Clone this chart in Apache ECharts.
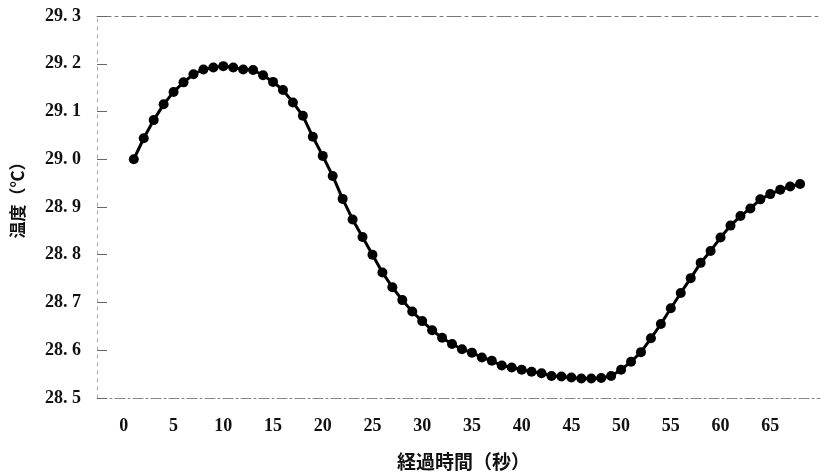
<!DOCTYPE html>
<html>
<head>
<meta charset="utf-8">
<script src="https://cdn.jsdelivr.net/npm/echarts@6/dist/echarts.min.js"></script>
<style>
html,body{margin:0;padding:0;background:#fff;}
#chart{width:824px;height:474px;}
</style>
</head>
<body>
<div id="chart"></div>
<script>
// Elapsed time (s)
const seconds = [1,2,3,4,5,6,7,8,9,10,11,12,13,14,15,16,17,18,19,20,
  21,22,23,24,25,26,27,28,29,30,31,32,33,34,35,36,37,38,39,40,
  41,42,43,44,45,46,47,48,49,50,51,52,53,54,55,56,57,58,59,60,
  61,62,63,64,65,66,67,68];
// Temperature (°C)
const temperature = [29.000,29.044,29.082,29.115,29.141,29.161,29.178,29.188,29.192,29.195,
  29.192,29.188,29.187,29.176,29.162,29.145,29.119,29.091,29.047,29.007,
  28.965,28.917,28.874,28.837,28.800,28.763,28.732,28.705,28.681,28.661,
  28.642,28.626,28.613,28.602,28.595,28.585,28.578,28.568,28.564,28.559,
  28.555,28.552,28.546,28.545,28.543,28.541,28.541,28.542,28.546,28.559,
  28.576,28.596,28.625,28.655,28.688,28.720,28.751,28.783,28.808,28.836,
  28.861,28.881,28.897,28.916,28.927,28.936,28.943,28.948];
const xTickLabels = [0,5,10,15,20,25,30,35,40,45,50,55,60,65];
const xTitle = '経過時間（秒）';
const yTitle = '温度（℃）';

const numFont = "'Liberation Serif','DejaVu Serif',serif";
const cjkFont = "'Noto Sans CJK JP','Noto Sans CJK SC',sans-serif";

const chart = echarts.init(document.getElementById('chart'), null, {renderer:'canvas'});
chart.setOption({
  animation:false,
  backgroundColor:'#fff',
  grid:{left:97,right:4,top:16,bottom:76,containLabel:false,outerBoundsMode:'none'},
  xAxis:[{
    type:'value', min:-2.7, max:70,
    name:xTitle, nameLocation:'middle', nameGap:54,
    nameTextStyle:{fontFamily:cjkFont,fontSize:19,fontWeight:'bold',color:'#111',padding:[0,0,0,10]},
    axisLine:{show:true,onZero:false,lineStyle:{color:'#888',width:1,type:[10,3,2,3]}},
    axisTick:{show:false},
    splitLine:{show:false},
    axisLabel:{customValues:xTickLabels,margin:19,fontFamily:numFont,fontSize:18,fontWeight:'bold',color:'#111'}
  },{
    type:'value', min:-2.7, max:70, position:'top',
    axisLine:{show:true,onZero:false,lineStyle:{color:'#777',width:1,type:[14,4,3,4]}},
    axisTick:{show:false}, axisLabel:{show:false}, splitLine:{show:false}
  }],
  yAxis:{
    type:'value', min:28.5, max:29.3, interval:0.1,
    name:yTitle, nameLocation:'middle', nameGap:71, nameRotate:90,
    nameTextStyle:{fontFamily:cjkFont,fontSize:17,fontWeight:'bold',color:'#111',padding:[0,0,0,22]},
    axisLine:{show:true,onZero:false,lineStyle:{color:'#aaa',width:1,type:[3,5]}},
    axisTick:{show:true,inside:true,length:10,lineStyle:{color:'#666'}},
    splitLine:{show:false},
    axisLabel:{margin:16,fontFamily:numFont,fontSize:18,fontWeight:'bold',color:'#111',
      formatter:v=>v.toFixed(1).replace('.', '. ')}
  },
  series:[{
    type:'line',
    data:seconds.map((s,i)=>[s,temperature[i]]),
    symbol:'circle', symbolSize:10,
    itemStyle:{color:'#000'},
    lineStyle:{color:'#000',width:3},
    z:5
  }]
});
</script>
</body>
</html>
